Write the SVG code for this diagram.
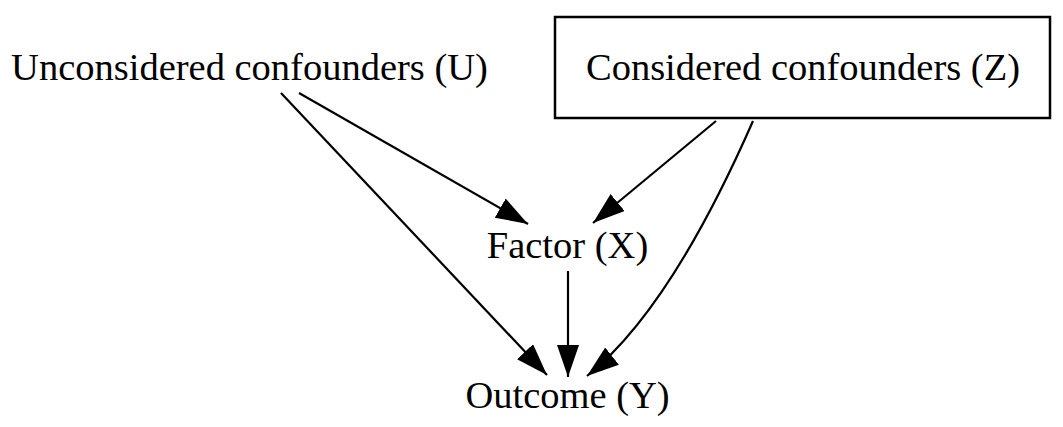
<svg xmlns="http://www.w3.org/2000/svg" width="1063" height="427" viewBox="0 0 1063 427">
<defs>
<style>
.lbl{font-family:"Liberation Serif","Times New Roman",serif;font-size:38.5px;fill:#000;text-anchor:middle}
.edge{fill:none;stroke:#000;stroke-width:2.2}
.box{fill:#fff;stroke:#000;stroke-width:2.5}
</style>
<marker id="arr" markerUnits="userSpaceOnUse" markerWidth="34" markerHeight="24" refX="32" refY="11" orient="auto" viewBox="0 0 34 24">
<path d="M0,0 L32,11 L0,22 z" fill="#000"/>
</marker>
</defs>
<rect width="1063" height="427" fill="#fff"/>
<g id="connectors">
<path class="edge" d="M299,93 L528,224" marker-end="url(#arr)"/>
<path class="edge" d="M281,93 L547,375" marker-end="url(#arr)"/>
<path class="edge" d="M568,271 L568,377" marker-end="url(#arr)"/>
<path class="edge" d="M716,121 L593,223" marker-end="url(#arr)"/>
<path class="edge" d="M753,121 Q670,310 587,376" marker-end="url(#arr)"/>
</g>
<g id="node-U">
<text class="lbl" x="249.5" y="80">Unconsidered confounders (U)</text>
</g>
<g id="node-Z">
<rect class="box" x="555" y="17" width="495" height="101"/>
<text class="lbl" x="803" y="80">Considered confounders (Z)</text>
</g>
<g id="node-X">
<text class="lbl" x="567.5" y="258">Factor (X)</text>
</g>
<g id="node-Y">
<text class="lbl" x="567.5" y="408">Outcome (Y)</text>
</g>
</svg>
